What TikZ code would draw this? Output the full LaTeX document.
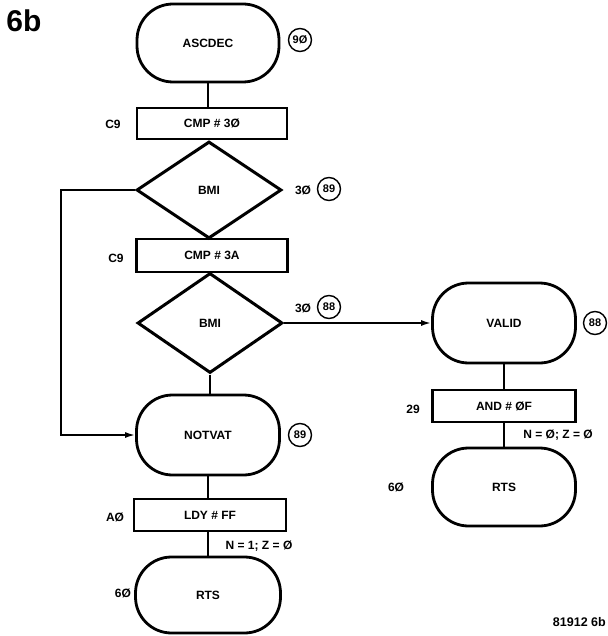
\documentclass[tikz,border=0pt]{standalone}
\usepackage{fontspec}
\setmainfont{Liberation Sans}
\usetikzlibrary{shapes.geometric,arrows.meta}
\begin{document}
\begin{tikzpicture}[x=1pt,y=-1pt,
  font=\fontsize{12}{14}\selectfont\bfseries,
  term/.style={draw,line width=2.8pt,rounded corners=36pt,minimum width=142pt,minimum height=78pt,inner sep=0pt},
  opbox/.style={draw,line width=2.4pt,minimum width=150pt,minimum height=31pt,inner sep=0pt},
  decis/.style={draw,diamond,line width=3pt,minimum width=145pt,minimum height=97pt,inner sep=0pt},
  ref/.style={draw,circle,line width=1.4pt,minimum size=23pt,inner sep=0pt,font=\fontsize{11}{12}\selectfont\bfseries},
  lbl/.style={inner sep=0pt},
  conn/.style={line width=1.7pt},
  arr/.style={conn,-{Latex[length=10pt,width=6pt]}}]
\useasboundingbox (0,0) rectangle (607,636);
% title
\node[lbl,font=\fontsize{30}{32}\selectfont\bfseries] (title) at (24,21) {6b};
% main column
\node[term] (asc) at (208,43) {ASCDEC};
\node[ref] (c90) at (300,40) {9Ø};
\node[opbox] (r1) at (212,123.5) {CMP \# 3Ø};
\node[lbl] (l1) at (113,124) {C9};
\node[decis] (d1) at (209,190) {BMI};
\node[lbl] (t1) at (303,190) {3Ø};
\node[ref] (c89a) at (329,189) {89};
\node[opbox,minimum height=33pt,minimum width=151pt] (r2) at (212,255.5) {CMP \# 3A};
\node[lbl] (l2) at (116,258) {C9};
\node[decis,minimum height=100pt] (d2) at (210,323) {BMI};
\node[lbl] (t2) at (303,308) {3Ø};
\node[ref] (c88a) at (329,307) {88};
\node[term,minimum height=80pt,minimum width=143pt] (notvat) at (208,435) {NOTVAT};
\node[ref] (c89b) at (300,435) {89};
\node[opbox,minimum width=152pt,minimum height=32pt] (r3) at (210,515) {LDY \# FF};
\node[lbl] (l3) at (115,517) {AØ};
\node[lbl] (f1) at (259,546) {N = 1;\ Z = Ø};
\node[term,minimum width=145pt,minimum height=76pt] (rts1) at (208,595) {RTS};
\node[lbl] (l4) at (123,593) {6Ø};
% right column
\node[term,minimum height=80pt,minimum width=143pt] (valid) at (504,323) {VALID};
\node[ref] (c88b) at (595,323) {88};
\node[opbox,minimum width=143pt,minimum height=32pt] (r4) at (504,406) {AND \# ØF};
\node[lbl] (l5) at (413,409) {29};
\node[lbl] (f2) at (558,435) {N = Ø;\ Z = Ø};
\node[term,minimum width=143pt,minimum height=78pt] (rts2) at (504,487) {RTS};
\node[lbl] (l6) at (396,487) {6Ø};
\node[lbl,anchor=east,font=\fontsize{12.5}{15}\selectfont\bfseries] (fig) at (606,622) {81912 6b};
% connectors
\coordinate (lp) at (61,190);
\draw[conn] (asc.south) -- (asc.south |- r1.north);
\draw[conn] (d1.south) -- (d1.south |- r2.north);
\draw[conn] (d2.south) -- (d2.south |- notvat.north);
\draw[conn] (notvat.south) -- (notvat.south |- r3.north);
\draw[conn] (r3.south -| rts1.north) -- (rts1.north);
\draw[arr] (d2.east) -- (valid.west);
\draw[arr] (d1.west) -- (lp) |- (notvat.west);
\draw[conn] (valid.south) -- (valid.south |- r4.north);
\draw[conn] (r4.south) -- (rts2.north);
\end{tikzpicture}
\end{document}
